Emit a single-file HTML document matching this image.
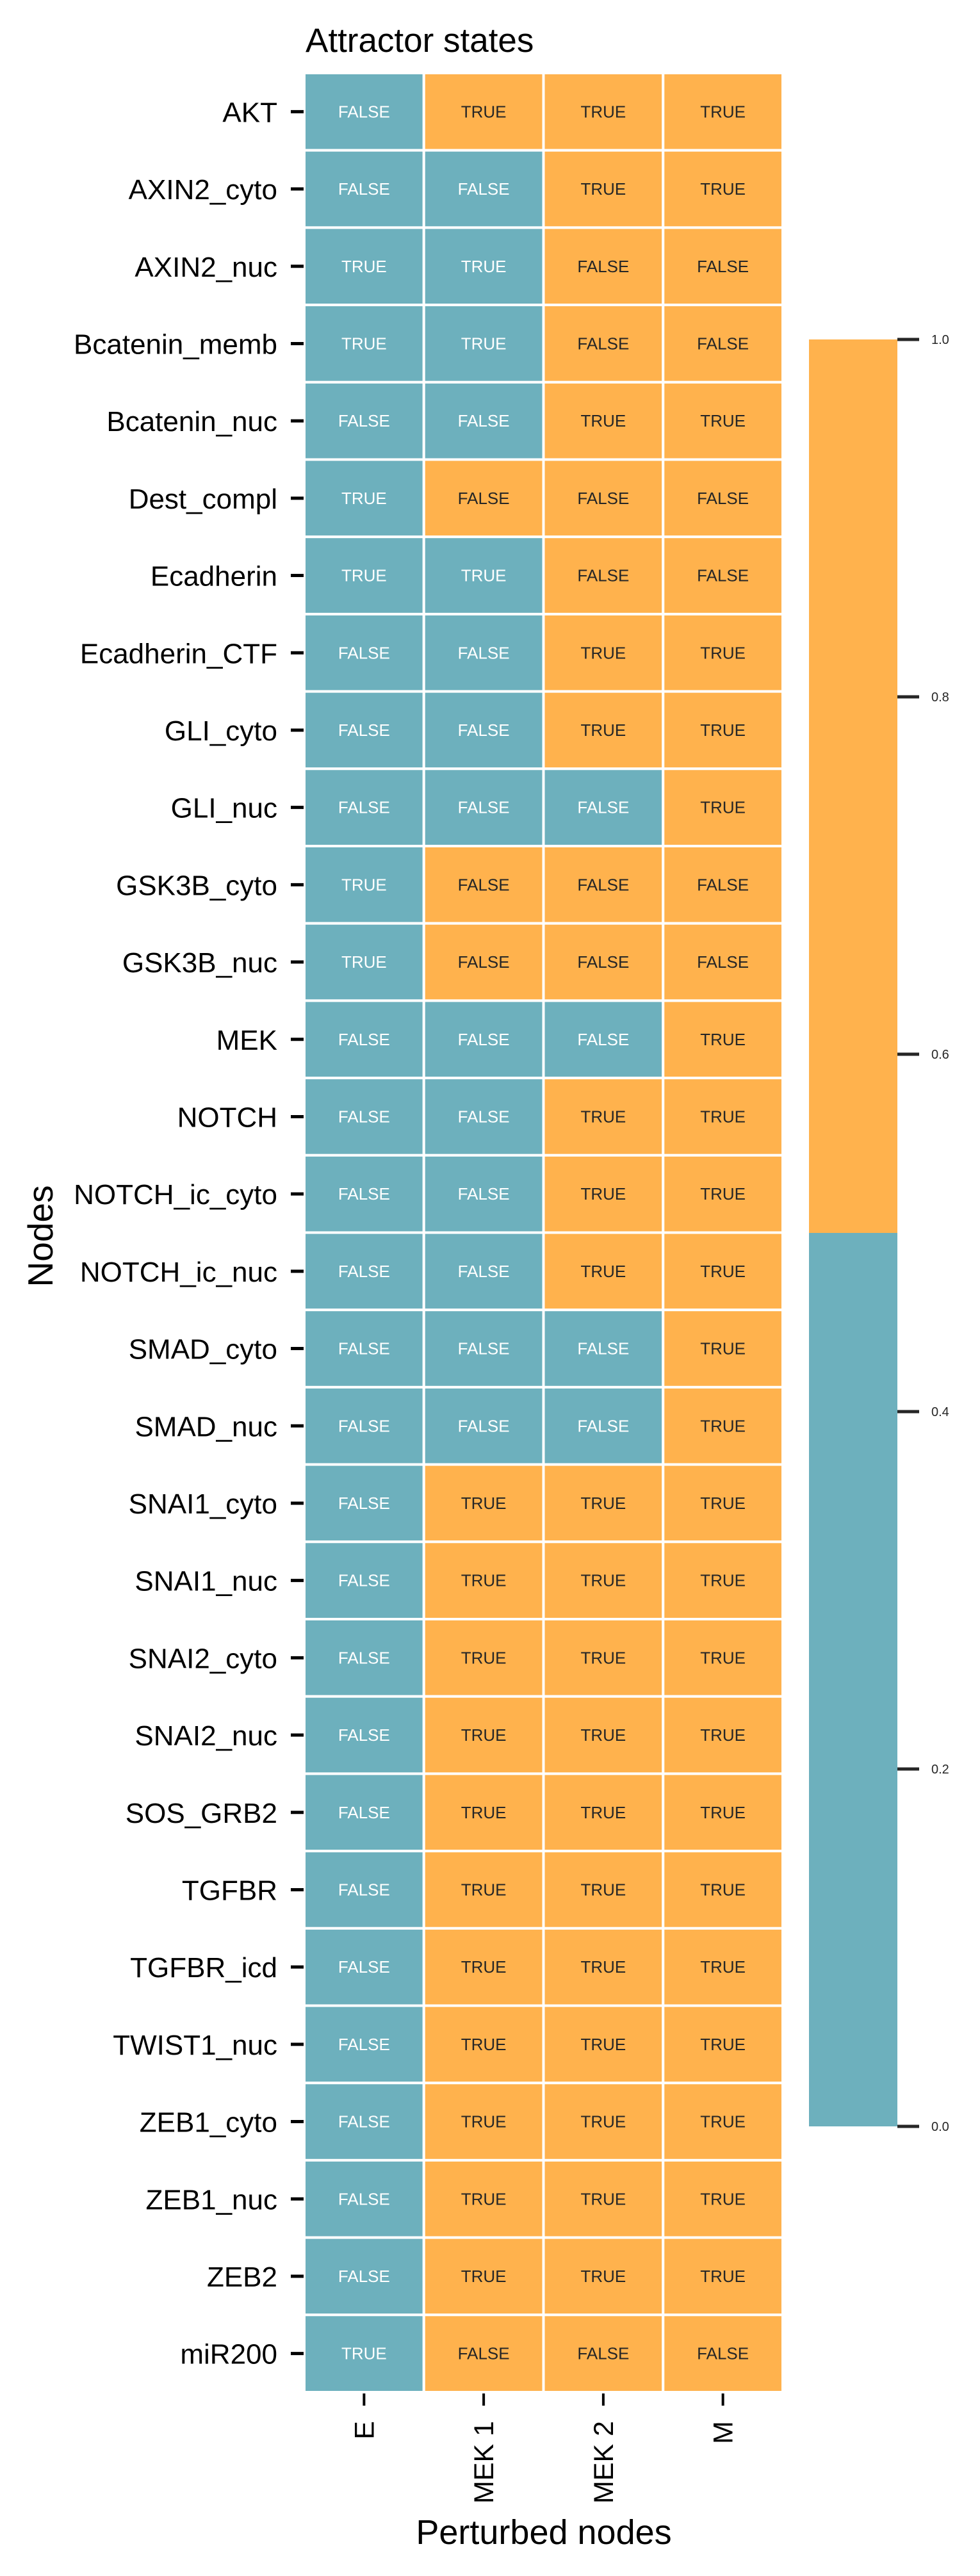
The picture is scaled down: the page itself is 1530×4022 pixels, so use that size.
<!DOCTYPE html>
<html><head><meta charset="utf-8"><style>
html,body{margin:0;padding:0;background:#fff;}
svg{display:block;font-family:"Liberation Sans",Arial,sans-serif;}
</style></head><body>
<svg id="chart" width="1530" height="4022" viewBox="0 0 1530 4022">
<text x="477" y="81" font-size="53" fill="#000">Attractor states</text>
<g id="cells"></g>
<g id="yaxis"></g>
<g id="xaxis"></g>
<text transform="translate(82,1930) rotate(-90)" text-anchor="middle" font-size="55" fill="#000">Nodes</text>
<text x="849" y="3972" text-anchor="middle" font-size="54" fill="#000">Perturbed nodes</text>
<g id="cbar"></g>
</svg>
<script>
const nodes = ["AKT","AXIN2_cyto","AXIN2_nuc","Bcatenin_memb","Bcatenin_nuc","Dest_compl","Ecadherin","Ecadherin_CTF","GLI_cyto","GLI_nuc","GSK3B_cyto","GSK3B_nuc","MEK","NOTCH","NOTCH_ic_cyto","NOTCH_ic_nuc","SMAD_cyto","SMAD_nuc","SNAI1_cyto","SNAI1_nuc","SNAI2_cyto","SNAI2_nuc","SOS_GRB2","TGFBR","TGFBR_icd","TWIST1_nuc","ZEB1_cyto","ZEB1_nuc","ZEB2","miR200"];
const conditions = ["E","MEK 1","MEK 2","M"];
// colour value per cell (0 = teal, 1 = orange)
const colorE    = [0,0,0,0,0,0,0,0,0,0,0,0,0,0,0,0,0,0,0,0,0,0,0,0,0,0,0,0,0,0];
const colorMEK1 = [1,0,0,0,0,1,0,0,0,0,1,1,0,0,0,0,0,0,1,1,1,1,1,1,1,1,1,1,1,1];
const colorMEK2 = [1,1,1,1,1,1,1,1,1,0,1,1,0,1,1,1,0,0,1,1,1,1,1,1,1,1,1,1,1,1];
const colorM    = [1,1,1,1,1,1,1,1,1,1,1,1,1,1,1,1,1,1,1,1,1,1,1,1,1,1,1,1,1,1];
// annotation per cell (1 = TRUE, 0 = FALSE)
const annotE    = [0,0,1,1,0,1,1,0,0,0,1,1,0,0,0,0,0,0,0,0,0,0,0,0,0,0,0,0,0,1];
const annotMEK1 = [1,0,1,1,0,0,1,0,0,0,0,0,0,0,0,0,0,0,1,1,1,1,1,1,1,1,1,1,1,0];
const annotMEK2 = [1,1,0,0,1,0,0,1,1,0,0,0,0,1,1,1,0,0,1,1,1,1,1,1,1,1,1,1,1,0];
const annotM    = [1,1,0,0,1,0,0,1,1,1,0,0,1,1,1,1,1,1,1,1,1,1,1,1,1,1,1,1,1,0];
const cbarTicks = [0.0,0.2,0.4,0.6,0.8,1.0];

const colorCols = [colorE,colorMEK1,colorMEK2,colorM];
const annotCols = [annotE,annotMEK1,annotMEK2,annotM];
const NS="http://www.w3.org/2000/svg";
const L=475,R=1222,T=114,B=3735;
const cw=(R-L)/conditions.length, rh=(B-T)/nodes.length;
const xPos=i=>L+i*cw, yPos=j=>T+j*rh;
const TEAL="#6db0bd", ORANGE="#ffb24d";
function mk(tag,attrs,parent){const e=document.createElementNS(NS,tag);for(const k in attrs)e.setAttribute(k,attrs[k]);parent.appendChild(e);return e;}
const cells=document.getElementById('cells'), ya=document.getElementById('yaxis'), xa=document.getElementById('xaxis'), cb=document.getElementById('cbar');
for(let i=0;i<conditions.length;i++){
  for(let j=0;j<nodes.length;j++){
    const v=colorCols[i][j];
    const r=mk('rect',{x:xPos(i),y:yPos(j),width:cw,height:rh,fill:v?ORANGE:TEAL,stroke:'#fff','stroke-width':4},cells);
    
    
    const t=mk('text',{x:xPos(i)+cw/2,y:yPos(j)+rh/2+9,'text-anchor':'middle','font-size':26,fill:v?'#262626':'#fff'},cells);
    t.textContent=annotCols[i][j]?'TRUE':'FALSE';
    
    
  }
}
nodes.forEach((n,j)=>{
  const cy=yPos(j)+rh/2;
  const tk=mk('line',{x1:454,x2:474,y1:cy,y2:cy,stroke:'#000','stroke-width':5},ya);
  
  
  const t=mk('text',{x:433,y:cy+16,'text-anchor':'end','font-size':44,fill:'#000'},ya);
  t.textContent=n;
  
  
});
conditions.forEach((c,i)=>{
  const cx=xPos(i)+cw/2;
  const tk=mk('line',{x1:cx,x2:cx,y1:3737,y2:3756,stroke:'#000','stroke-width':4},xa);
  
  
  const t=mk('text',{transform:`translate(${cx+15},3780) rotate(-90)`,'text-anchor':'end','font-size':43,fill:'#000'},xa);
  t.textContent=c;
  
  
});
// colorbar
const CT=530,CB=3320,CL=1263,CR=1401;
const cy=v=>CB-(CB-CT)*v;
const r1=mk('rect',{x:CL,y:cy(1),width:CR-CL,height:cy(0.5)-cy(1),fill:ORANGE},cb);


const r2=mk('rect',{x:CL,y:cy(0.5),width:CR-CL,height:cy(0)-cy(0.5),fill:TEAL},cb);


cbarTicks.forEach(v=>{
  const y=cy(v);
  const tk=mk('line',{x1:CR,x2:1435,y1:y,y2:y,stroke:'#262626','stroke-width':5},cb);
  
  
  const t=mk('text',{x:1454,y:y+7,'font-size':20,fill:'#262626'},cb);
  t.textContent=v.toFixed(1);
  
  
});
</script>
</body></html>
